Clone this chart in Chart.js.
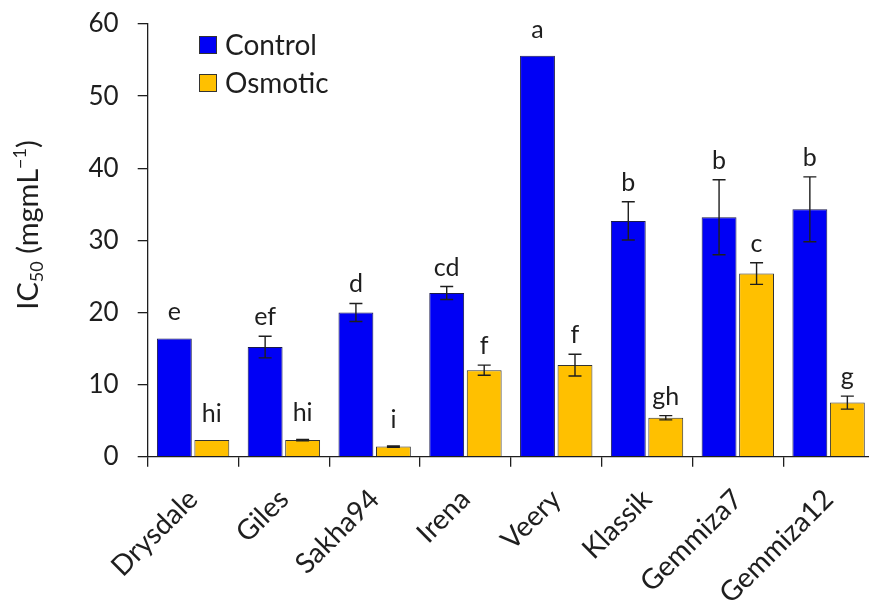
<!DOCTYPE html>
<html>
<head>
<meta charset="utf-8">
<script src="https://cdn.jsdelivr.net/npm/chart.js@4/dist/chart.umd.min.js"></script>
<style>
  html, body { margin: 0; padding: 0; background: #fff; overflow: hidden; }
  #wrap { width: 880px; height: 608px; }
</style>
</head>
<body>
<div id="wrap"><canvas id="c" width="880" height="608"></canvas></div>
<script>
// Wheat cultivars and IC50 (mg mL-1) under control and osmotic stress
const cultivars = ['Drysdale', 'Giles', 'Sakha94', 'Irena', 'Veery', 'Klassik', 'Gemmiza7', 'Gemmiza12'];
const controlIC50 = [16.4, 15.2, 20.0, 22.7, 55.6, 32.7, 33.2, 34.3];
const controlErr = [0, 1.5, 1.25, 0.9, 0, 2.65, 5.2, 4.5];
const controlLetters = ['e', 'ef', 'd', 'cd', 'a', 'b', 'b', 'b'];
const osmoticIC50 = [2.3, 2.3, 1.4, 12.0, 12.7, 5.4, 25.4, 7.5];
const osmoticErr = [0, 0.1, 0.1, 0.7, 1.5, 0.3, 1.5, 0.9];
const osmoticLetters = ['hi', 'hi', 'i', 'f', 'f', 'gh', 'c', 'g'];
const yTicks = [0, 10, 20, 30, 40, 50, 60];

const FONT = 'Lato, "Open Sans", sans-serif';
const INK = '#1e1e1e';

// Error bars and significance letters above each bar
const barAnnotations = {
  id: 'barAnnotations',
  afterDatasetsDraw(chart) {
    const ctx = chart.ctx;
    const y = chart.scales.y;
    ctx.save();
    chart.data.datasets.forEach((ds, di) => {
      const meta = chart.getDatasetMeta(di);
      meta.data.forEach((bar, i) => {
        const v = ds.data[i];
        const e = ds.errors[i];
        const yTop = y.getPixelForValue(v + e);
        const yBot = y.getPixelForValue(v - e);
        if (e > 0) {
          ctx.strokeStyle = INK;
          ctx.lineWidth = 1.4;
          ctx.beginPath();
          ctx.moveTo(bar.x, yTop); ctx.lineTo(bar.x, yBot);
          ctx.moveTo(bar.x - 6.5, yTop); ctx.lineTo(bar.x + 6.5, yTop);
          ctx.moveTo(bar.x - 6.5, yBot); ctx.lineTo(bar.x + 6.5, yBot);
          ctx.stroke();
        }
        const gap = (yBot - yTop) < 4 ? 18 : 11;
        ctx.fillStyle = INK;
        ctx.font = '25px ' + FONT;
        ctx.textAlign = 'center';
        ctx.textBaseline = 'alphabetic';
        ctx.fillText(ds.letters[i], bar.x, yTop - gap);
      });
    });
    ctx.restore();
  }
};

// Legend boxes inside the plot, top left
const insideLegend = {
  id: 'insideLegend',
  afterDraw(chart) {
    const ctx = chart.ctx;
    ctx.save();
    chart.data.datasets.forEach((ds, i) => {
      const top = 36 + i * 38;
      ctx.fillStyle = ds.backgroundColor;
      ctx.fillRect(199, top, 18, 18);
      ctx.strokeStyle = '#333';
      ctx.lineWidth = 1;
      ctx.strokeRect(199.5, top + 0.5, 17, 17);
      ctx.fillStyle = INK;
      ctx.font = '28px ' + FONT;
      ctx.textAlign = 'left';
      ctx.textBaseline = 'middle';
      ctx.fillText(ds.label, 225, top + 10);
    });
    ctx.restore();
  }
};

// Rotated y-axis title with subscript and superscript
const yTitle = {
  id: 'yTitle',
  afterDraw(chart) {
    const ctx = chart.ctx;
    const size = 29, small = 18;
    const parts = [
      { t: 'IC', s: size, dy: 0 },
      { t: '50', s: small, dy: 5 },
      { t: ' (mgmL', s: size, dy: 0 },
      { t: '\u22121', s: small, dy: -12 },
      { t: ')', s: size, dy: 0 }
    ];
    ctx.save();
    ctx.translate(38, 225);
    ctx.rotate(-Math.PI / 2);
    ctx.fillStyle = INK;
    ctx.textBaseline = 'alphabetic';
    ctx.textAlign = 'left';
    let total = 0;
    parts.forEach(p => { ctx.font = p.s + 'px ' + FONT; p.w = ctx.measureText(p.t).width; total += p.w; });
    let x = -total / 2;
    parts.forEach(p => { ctx.font = p.s + 'px ' + FONT; ctx.fillText(p.t, x, p.dy); x += p.w; });
    ctx.restore();
  }
};

new Chart(document.getElementById('c'), {
  type: 'bar',
  data: {
    labels: cultivars,
    datasets: [
      { label: 'Control', data: controlIC50, errors: controlErr, letters: controlLetters,
        backgroundColor: '#0000F5', borderColor: '#1a1a4a', borderWidth: 1 },
      { label: 'Osmotic', data: osmoticIC50, errors: osmoticErr, letters: osmoticLetters,
        backgroundColor: '#FFC000', borderColor: '#333333', borderWidth: 1 }
    ]
  },
  options: {
    responsive: false,
    devicePixelRatio: 1,
    animation: false,
    layout: { padding: { left: 0, top: 24, right: 6, bottom: 0 } },
    categoryPercentage: 0.826,
    barPercentage: 0.93,
    plugins: { legend: { display: false }, tooltip: { enabled: false } },
    scales: {
      x: {
        offset: true,
        grid: { offset: true, drawOnChartArea: false, drawTicks: true, tickLength: 10, color: INK, lineWidth: 1.3 },
        border: { display: true, color: INK, width: 1.3 },
        ticks: { minRotation: 45, maxRotation: 45, autoSkip: false, padding: 16, color: INK, font: { size: 28, family: FONT } },
        afterFit(scale) { scale.height = 151.3; }
      },
      y: {
        min: 0, max: 60,
        afterBuildTicks(scale) { scale.ticks = yTicks.map(v => ({ value: v })); },
        grid: { drawOnChartArea: false, drawTicks: true, tickLength: 10, color: INK, lineWidth: 1.3 },
        border: { display: true, color: INK, width: 1.3 },
        ticks: { padding: 19, color: INK, font: { size: 26, family: FONT } },
        afterFit(scale) { scale.width = 147.7; scale.paddingTop = 0; scale.paddingBottom = 0; }
      }
    }
  },
  plugins: [barAnnotations, insideLegend, yTitle]
});
</script>
</body>
</html>
